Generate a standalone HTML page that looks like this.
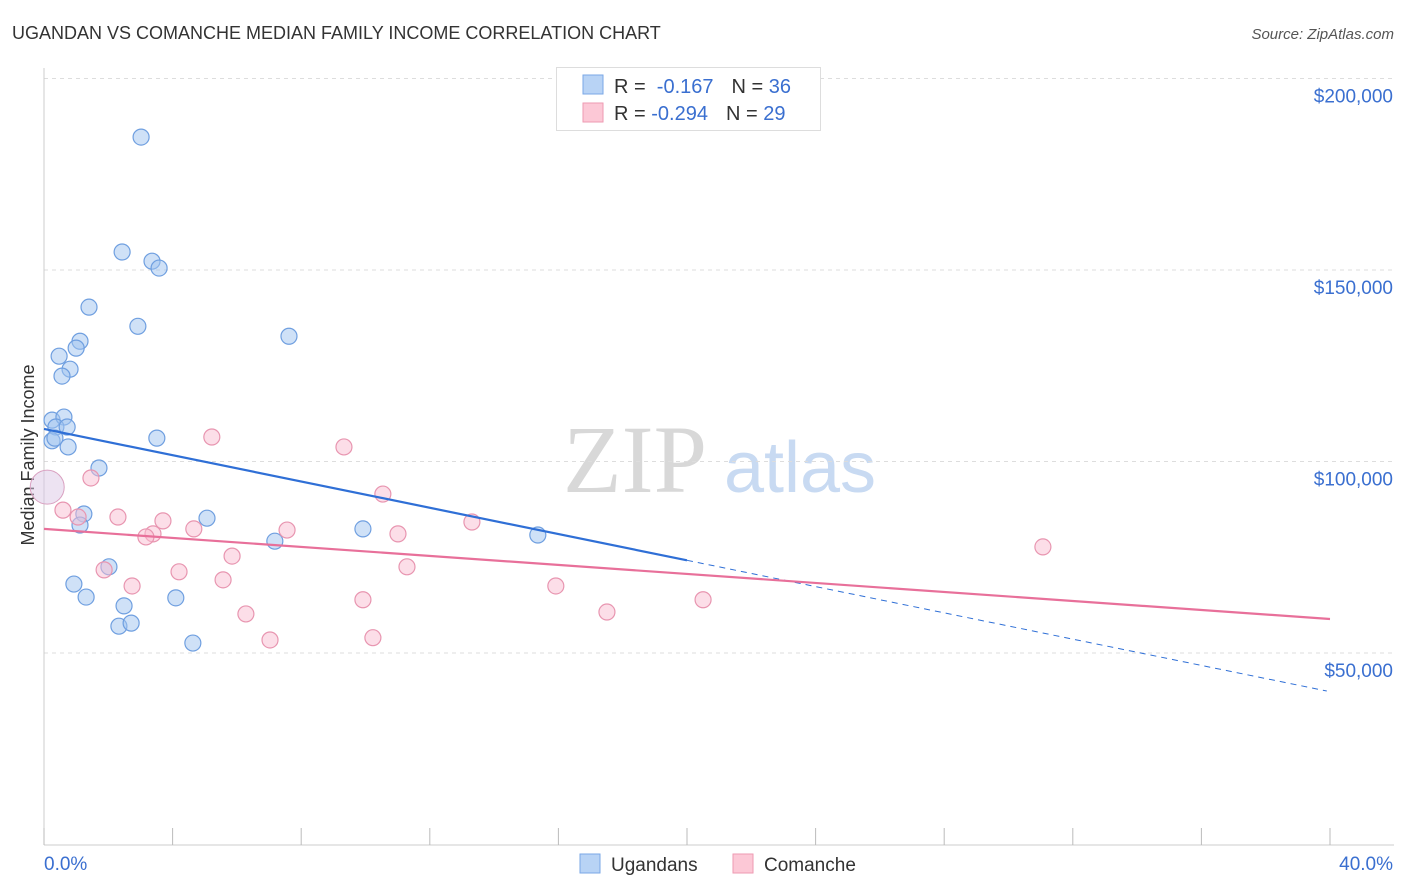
<!DOCTYPE html>
<html><head><meta charset="utf-8"><style>
body{margin:0;background:#fff;font-family:"Liberation Sans",sans-serif;}
svg{display:block}
</style></head><body>
<svg id="chart" width="1406" height="892" xmlns="http://www.w3.org/2000/svg">
<text x="12" y="39" font-size="18" fill="#333">UGANDAN VS COMANCHE MEDIAN FAMILY INCOME CORRELATION CHART</text>
<text x="1394" y="39" font-size="15" fill="#555" text-anchor="end" font-style="italic">Source: ZipAtlas.com</text>
<text x="635" y="492" font-size="96" fill="#d8d8d8" text-anchor="middle" font-family="Liberation Serif,serif">ZIP</text>
<text x="800" y="492" font-size="72" fill="#c8daf2" text-anchor="middle">atlas</text>
<text x="34" y="455" font-size="18" fill="#333" text-anchor="middle" transform="rotate(-90 34 455)">Median Family Income</text>
<g id="grid"></g><g id="marks"></g>
<g>
<rect x="556.5" y="67.5" width="264" height="63" fill="#fff" stroke="#ddd"/>
<rect x="583" y="75" width="20" height="19" fill="#b8d3f5" stroke="#7aa7e6"/>
<rect x="583" y="103" width="20" height="19" fill="#fcc8d6" stroke="#ee9ab2"/>
<text x="614" y="93" font-size="20" fill="#333">R = <tspan fill="#3a6fd0">&#160;-0.167</tspan><tspan dx="18">N = </tspan><tspan fill="#3a6fd0">36</tspan></text>
<text x="614" y="120" font-size="20" fill="#333">R = <tspan fill="#3a6fd0">-0.294</tspan><tspan dx="18">N = </tspan><tspan fill="#3a6fd0">29</tspan></text>
</g>
<g>
<rect x="580" y="854" width="20" height="19" fill="#b8d3f5" stroke="#7aa7e6"/>
<text x="611" y="871" font-size="19" fill="#333">Ugandans</text>
<rect x="733" y="854" width="20" height="19" fill="#fcc8d6" stroke="#ee9ab2"/>
<text x="764" y="871" font-size="19" fill="#333">Comanche</text>
</g>
</svg>
<script>
const yTicks=[50000,100000,150000,200000];
const yTickLabels=["$50,000","$100,000","$150,000","$200,000"];
const xTickPcts=[0,4,8,12,16,20,24,28,32,36,40];
const xLabels=["0.0%","40.0%"];
const blueX=[3.02,2.43,3.36,3.58,1.40,2.92,7.62,1.12,1.00,0.47,0.81,0.56,0.25,0.62,0.37,0.72,0.25,0.75,1.71,1.24,1.12,5.07,7.18,9.92,15.36,2.02,0.93,1.31,2.49,4.10,2.33,2.71,4.63,0.34,3.51];
const blueY=[184700,154700,152300,150500,140300,135300,132700,131400,129600,127500,124100,122300,110800,111600,109000,109000,105400,103800,98300,86300,83400,85200,79200,82400,80800,72500,68000,64600,62300,64400,57000,57800,52600,106100,106100];
const pinkX=[5.22,9.33,1.46,10.54,0.59,1.06,2.30,3.70,13.31,4.66,7.56,3.39,3.17,11.01,5.85,11.29,1.87,4.20,5.57,2.74,15.92,9.92,20.50,6.28,17.51,7.03,10.23,31.07];
const pinkY=[106400,103800,95700,91500,87300,85500,85500,84500,84200,82400,82100,81100,80300,81100,75300,72500,71700,71200,69100,67500,67500,63900,63900,60200,60700,53400,54000,77700];
const bigPoint=[0.1,93300];
const blueTrend=[108500,-1715]; // intercept, slope per %
const pinkTrend=[82400,-588];
const blueSolidEnd=20;
const X=p=>44+p*1286/40, Y=v=>844.5-v*191.5/50000;
const NS="http://www.w3.org/2000/svg";
function mk(t,a,parent){const e=document.createElementNS(NS,t);for(const k in a)e.setAttribute(k,a[k]);parent.appendChild(e);return e;}
const grid=document.getElementById('grid'),marks=document.getElementById('marks');
yTicks.forEach((v,i)=>{
 const l=mk('line',{x1:44,x2:1394,y1:Y(v),y2:Y(v),stroke:'#ddd','stroke-dasharray':'4 4'},grid);
 
 
 const t=mk('text',{x:1393,y:Y(v)+24,'font-size':19,fill:'#3a6fd0','text-anchor':'end'},grid);t.textContent=yTickLabels[i];
 
 
});
mk('line',{x1:44,x2:44,y1:68,y2:845,stroke:'#ccc'},grid);
mk('line',{x1:44,x2:1394,y1:845,y2:845,stroke:'#ccc'},grid);
xTickPcts.forEach(p=>{const l=mk('line',{x1:X(p),x2:X(p),y1:828,y2:845,stroke:'#bbb'},grid);
 
 });
let t0=mk('text',{x:44,y:870,'font-size':19,fill:'#3a6fd0'},grid);t0.textContent=xLabels[0];


let t1=mk('text',{x:1393,y:870,'font-size':19,fill:'#3a6fd0','text-anchor':'end'},grid);t1.textContent=xLabels[1];


let bp=mk('circle',{cx:X(bigPoint[0]),cy:Y(bigPoint[1]),r:17,fill:'rgba(220,200,230,0.5)',stroke:'#d9a0c0'},marks);


blueX.forEach((x,i)=>{const c=mk('circle',{cx:X(x),cy:Y(blueY[i]),r:8,fill:'rgba(160,195,240,0.5)',stroke:'#6f9fe0','stroke-width':1.2},marks);
 
 });
pinkX.forEach((x,i)=>{const c=mk('circle',{cx:X(x),cy:Y(pinkY[i]),r:8,fill:'rgba(250,190,210,0.5)',stroke:'#e895b0','stroke-width':1.2},marks);
 
 });
const bt=p=>blueTrend[0]+blueTrend[1]*p, pt=p=>pinkTrend[0]+pinkTrend[1]*p;
let l1=mk('line',{x1:X(0),y1:Y(bt(0)),x2:X(blueSolidEnd),y2:Y(bt(blueSolidEnd)),stroke:'#2f6fd6','stroke-width':2.2},marks);


let l2=mk('line',{x1:X(blueSolidEnd),y1:Y(bt(blueSolidEnd)),x2:X(39.9),y2:Y(bt(39.9)),stroke:'#2f6fd6','stroke-width':1,'stroke-dasharray':'6 5'},marks);


let l3=mk('line',{x1:X(0),y1:Y(pt(0)),x2:X(40),y2:Y(pt(40)),stroke:'#e8709a','stroke-width':2.2},marks);


</script>
</body></html>
